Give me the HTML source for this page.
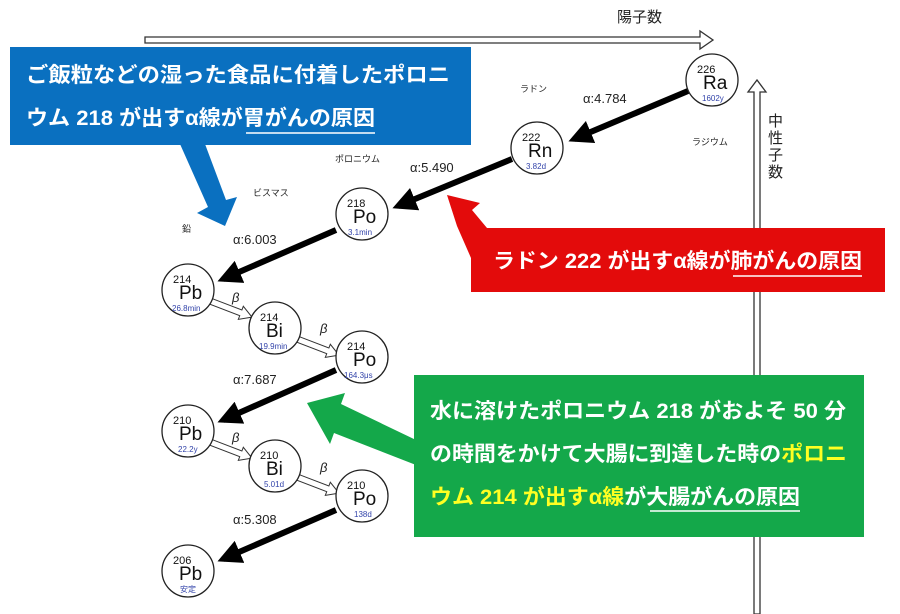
<!DOCTYPE html>
<html><head><meta charset="utf-8"><style>
html,body{margin:0;padding:0;background:#fff;}
svg{display:block;}
.j{font-family:"Liberation Sans","Noto Sans CJK JP",sans-serif;}
.b{font-weight:bold;fill:#fff;font-size:21px;}
.s{font-size:9px;fill:#222;}
.n{font-size:19px;fill:#111;}
.m{font-size:11px;fill:#111;}
.h{font-size:8px;fill:#3344aa;}
.a{font-size:13px;fill:#222;}
</style></head><body>
<svg width="900" height="614" viewBox="0 0 900 614" xmlns="http://www.w3.org/2000/svg" class="j">
<defs>
<marker id="ah" markerWidth="4" markerHeight="4" refX="3" refY="2" orient="auto"><path d="M0,0 L4,2 L0,4 Z" fill="#000"/></marker>
<path id="bt" d="M0,-3 H33 V-7 L45,0 L33,7 V3 H0 Z" fill="#fff" stroke="#333" stroke-width="1"/>
</defs>
<path d="M145,37 H700 V31 L713,40 L700,49 V43 H145 Z" fill="#fff" stroke="#333" stroke-width="1.3"/>
<text x="617" y="22" class="j" font-size="15" fill="#222">陽子数</text>
<path d="M754,614 V92 H748 L757,80 L766,92 H760 V614 Z" fill="#fff" stroke="#333" stroke-width="1.3"/>
<text class="j" font-size="15" fill="#222" x="768" y="126">中</text>
<text class="j" font-size="15" fill="#222" x="768" y="143">性</text>
<text class="j" font-size="15" fill="#222" x="768" y="160">子</text>
<text class="j" font-size="15" fill="#222" x="768" y="177">数</text>
<text x="520" y="92" class="s">ラドン</text>
<text x="692" y="145" class="s">ラジウム</text>
<text x="335" y="162" class="s">ポロニウム</text>
<text x="253" y="196" class="s">ビスマス</text>
<text x="182" y="232" class="s">鉛</text>
<g stroke="#000" stroke-width="6" marker-end="url(#ah)">
<line x1="688" y1="91" x2="574" y2="139"/>
<line x1="512" y1="159" x2="398" y2="206"/>
<line x1="336" y1="230" x2="223" y2="279"/>
<line x1="336" y1="370" x2="223" y2="420"/>
<line x1="336" y1="510" x2="223" y2="559"/>
</g>
<text x="583" y="103" class="a">α:4.784</text>
<text x="410" y="172" class="a">α:5.490</text>
<text x="233" y="244" class="a">α:6.003</text>
<text x="233" y="384" class="a">α:7.687</text>
<text x="233" y="524" class="a">α:5.308</text>
<use href="#bt" transform="translate(210,301) rotate(21)"/>
<use href="#bt" transform="translate(297,339) rotate(21)"/>
<use href="#bt" transform="translate(210,442) rotate(21)"/>
<use href="#bt" transform="translate(297,477) rotate(21)"/>
<text x="232" y="302" class="a" font-style="italic">β</text>
<text x="320" y="333" class="a" font-style="italic">β</text>
<text x="232" y="442" class="a" font-style="italic">β</text>
<text x="320" y="472" class="a" font-style="italic">β</text>
<g fill="#fff" stroke="#222" stroke-width="1.3">
<circle cx="712" cy="80" r="26"/><circle cx="537" cy="148" r="26"/><circle cx="362" cy="214" r="26"/>
<circle cx="188" cy="290" r="26"/><circle cx="275" cy="328" r="26"/><circle cx="362" cy="357" r="26"/>
<circle cx="188" cy="431" r="26"/><circle cx="275" cy="466" r="26"/><circle cx="362" cy="496" r="26"/>
<circle cx="188" cy="571" r="26"/>
</g>
<g>
<text x="697" y="73" class="m">226</text><text x="703" y="89" class="n">Ra</text><text x="702" y="101" class="h">1602y</text>
<text x="522" y="141" class="m">222</text><text x="528" y="157" class="n">Rn</text><text x="526" y="169" class="h">3.82d</text>
<text x="347" y="207" class="m">218</text><text x="353" y="223" class="n">Po</text><text x="348" y="235" class="h">3.1min</text>
<text x="173" y="283" class="m">214</text><text x="179" y="299" class="n">Pb</text><text x="172" y="311" class="h">26.8min</text>
<text x="260" y="321" class="m">214</text><text x="266" y="337" class="n">Bi</text><text x="259" y="349" class="h">19.9min</text>
<text x="347" y="350" class="m">214</text><text x="353" y="366" class="n">Po</text><text x="344" y="378" class="h">164.3μs</text>
<text x="173" y="424" class="m">210</text><text x="179" y="440" class="n">Pb</text><text x="178" y="452" class="h">22.2y</text>
<text x="260" y="459" class="m">210</text><text x="266" y="475" class="n">Bi</text><text x="264" y="487" class="h">5.01d</text>
<text x="347" y="489" class="m">210</text><text x="353" y="505" class="n">Po</text><text x="354" y="517" class="h">138d</text>
<text x="173" y="564" class="m">206</text><text x="179" y="580" class="n">Pb</text><text x="180" y="592" class="h">安定</text>
</g>
<rect x="10" y="47" width="461" height="98" fill="#0a70c0"/>
<path d="M180,144 L205,144 L226,200 L237,197 L225,226 L197,213 L208,207 Z" fill="#0a70c0"/>
<text x="26" y="82" class="b" textLength="424" lengthAdjust="spacingAndGlyphs">ご飯粒などの湿った食品に付着したポロニ</text>
<text x="26" y="125" class="b" textLength="349" lengthAdjust="spacingAndGlyphs">ウム 218 が出すα線が胃がんの原因</text>
<line x1="246" y1="133" x2="375" y2="133" stroke="#fff" stroke-width="1.5"/>
<rect x="471" y="228" width="414" height="64" fill="#e30b0b"/>
<path d="M471,258 L471,228 L487,228 L472,210 L480,203 L447,195 L457,226 Z" fill="#e30b0b"/>
<text x="493" y="268" class="b" textLength="369" lengthAdjust="spacingAndGlyphs">ラドン 222 が出すα線が肺がんの原因</text>
<line x1="733" y1="276" x2="862" y2="276" stroke="#fff" stroke-width="1.5"/>
<rect x="414" y="375" width="450" height="162" fill="#14a84a"/>
<path d="M416,440 L416,465 L334,433 L330,444 L307,403 L345,393 L341,404 Z" fill="#14a84a"/>
<text x="430" y="418" class="b" textLength="416" lengthAdjust="spacingAndGlyphs">水に溶けたポロニウム 218 がおよそ 50 分</text>
<text x="430" y="461" class="b" textLength="417" lengthAdjust="spacingAndGlyphs">の時間をかけて大腸に到達した時の<tspan fill="#ffff22">ポロニ</tspan></text>
<text x="430" y="504" class="b" textLength="370" lengthAdjust="spacingAndGlyphs"><tspan fill="#ffff22">ウム 214 が出すα線</tspan>が大腸がんの原因</text>
<line x1="650" y1="511" x2="800" y2="511" stroke="#fff" stroke-width="1.5"/>
</svg>
</body></html>
